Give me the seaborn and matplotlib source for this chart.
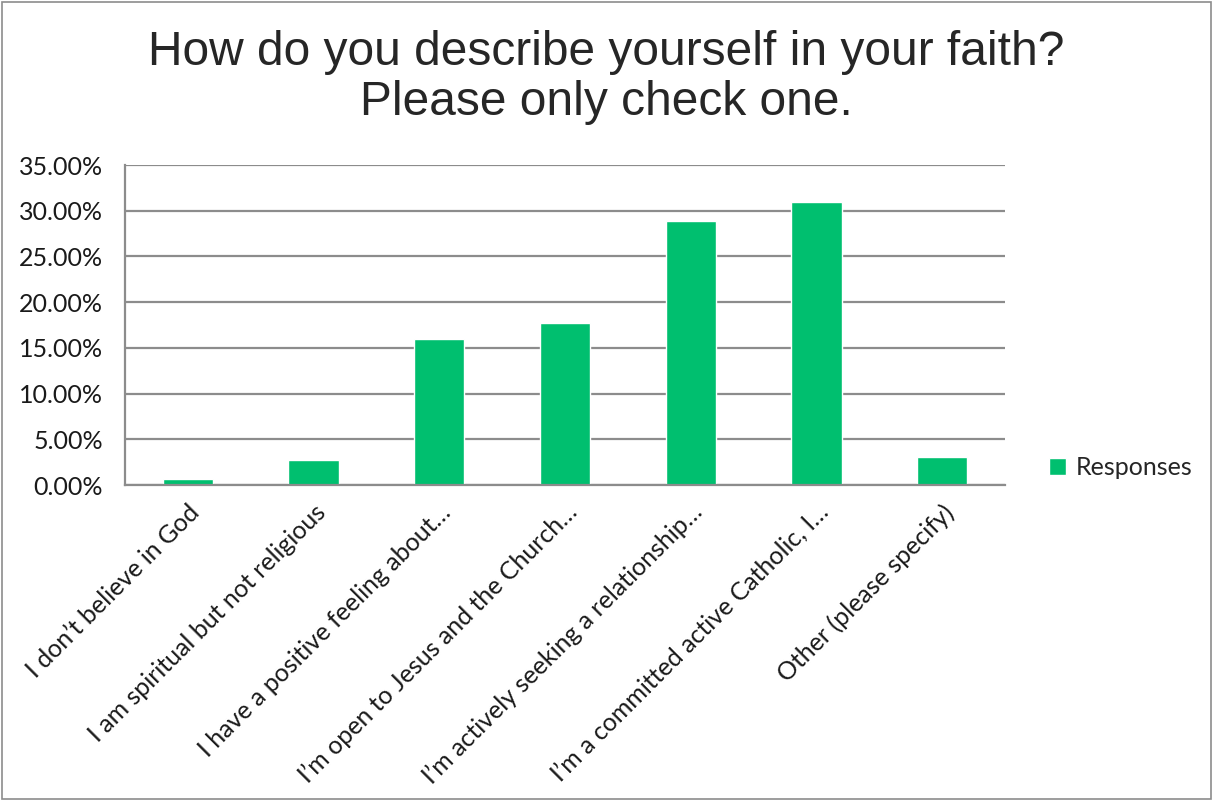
import matplotlib
matplotlib.use("Agg")
import matplotlib.pyplot as plt
import seaborn as sns
import pandas as pd
from matplotlib.ticker import FuncFormatter, FixedLocator
from matplotlib.patches import Rectangle

# answers (truncated as in the survey export) and share of responses in %
categories = [
    "I don\u2019t believe in God",
    "I am spiritual but not religious",
    "I have a positive feeling about\u2026",
    "I\u2019m open to Jesus and the Church\u2026",
    "I\u2019m actively seeking a relationship\u2026",
    "I\u2019m a committed active Catholic, I\u2026",
    "Other (please specify)",
]
responses = [0.7, 2.7, 16.0, 17.7, 28.9, 31.0, 3.1]
y_ticks = [0, 5, 10, 15, 20, 25, 30, 35]

df = pd.DataFrame({"answer": categories, "pct": responses, "series": "Responses"})

sns.set_style("white")
plt.rcParams["font.family"] = ["Lato", "DejaVu Sans"]

green = "#00BF6F"
grid_col = "#8c8c8c"
fs = 18

fig = plt.figure(figsize=(12.13, 8.01), dpi=100)
ax = fig.add_axes([0.103, 0.3945, 0.7255, 0.3995])

sns.barplot(data=df, x="answer", y="pct", hue="series", palette=[green],
            width=0.4, ax=ax, saturation=1, legend=True)

ax.set_ylim(0, 35)
ax.set_xlim(-0.5, len(categories) - 0.5)
ax.yaxis.set_major_locator(FixedLocator(y_ticks))
ax.yaxis.set_major_formatter(FuncFormatter(lambda v, p: f"{v:.2f}%"))
ax.yaxis.grid(True, color=grid_col, linewidth=1.6)
ax.set_axisbelow(True)
ax.set_xlabel("")
ax.set_ylabel("")

for side in ["top", "right"]:
    ax.spines[side].set_visible(False)
for side in ["left", "bottom"]:
    ax.spines[side].set_color(grid_col)
    ax.spines[side].set_linewidth(1.6)

# ticks between the categories on x, outward on y
ax.set_xticks([i for i in range(len(categories))])
ax.set_xticklabels(categories, rotation=45, ha="right", rotation_mode="anchor",
                   fontsize=fs, color="#1a1a1a")
ax.xaxis.set_minor_locator(FixedLocator([i - 0.5 for i in range(len(categories) + 1)]))
ax.tick_params(axis="x", which="major", length=0, pad=11)
ax.tick_params(axis="x", which="minor", length=7, width=1.6, color=grid_col, direction="out")
ax.tick_params(axis="y", length=7, width=1.6, color=grid_col, direction="out",
               labelsize=fs, labelcolor="#1a1a1a", pad=9)

leg = ax.legend(loc="center left", bbox_to_anchor=(1.024, 0.054), frameon=False,
                fontsize=fs, handlelength=0.7, handleheight=0.7,
                handletextpad=0.4)

fig.text(0.5, 0.903, "How do you describe yourself in your faith?\nPlease only check one.",
         ha="center", va="center", fontsize=34.5, family=["Liberation Sans", "DejaVu Sans"],
         linespacing=1.15)

fig.patches.append(Rectangle((0.002, 0.003), 0.996, 0.994, transform=fig.transFigure,
                             fill=False, edgecolor="#8c8c8c", linewidth=1.2))

fig.savefig("out.png", dpi=100)
